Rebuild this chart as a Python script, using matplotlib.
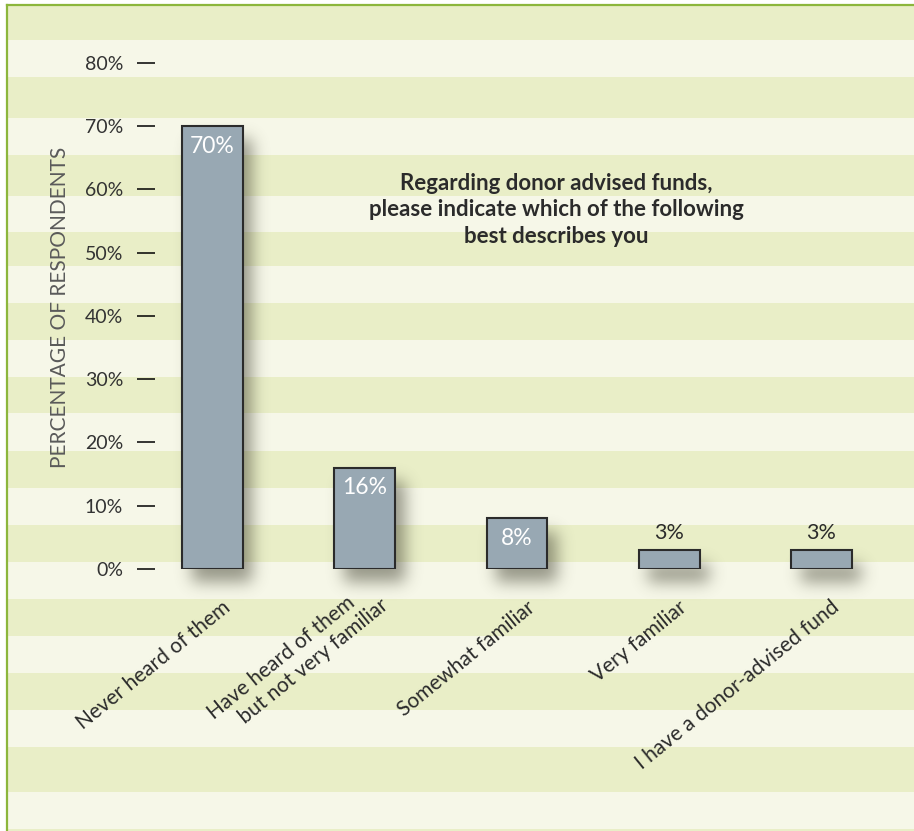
import numpy as np
import matplotlib
matplotlib.use("Agg")
import matplotlib.pyplot as plt
import matplotlib.transforms as mtransforms
from matplotlib.patches import Rectangle

plt.rcParams['font.family'] = ['Lato', 'DejaVu Sans']

categories = ["Never heard of them",
              "Have heard of them\n    but not very familiar",
              "Somewhat familiar",
              "Very familiar",
              "I have a donor-advised fund"]
values = [70, 16, 8, 3, 3]
value_labels = ["70%", "16%", "8%", "3%", "3%"]
yticks = [0, 10, 20, 30, 40, 50, 60, 70, 80]
ytick_labels = ["0%", "10%", "20%", "30%", "40%", "50%", "60%", "70%", "80%"]
title = "Regarding donor advised funds,\nplease indicate which of the following\nbest describes you"
ylabel = "PERCENTAGE OF RESPONDENTS"

W, H = 914, 831
GREEN = "#e9eec7"
LIGHT = "#f6f7e8"
BAR = "#98a8b3"
DARK = "#2b2b2b"

fig = plt.figure(figsize=(W / 100, H / 100), dpi=100)
fig.patch.set_facecolor("white")

# striped background (pixel rows)
edges = [6, 40, 77, 118, 155, 196, 232, 266, 303, 340, 377, 413, 451, 488,
         525, 562, 599, 636, 673, 710, 747, 792, 829, 831]
for k in range(len(edges) - 1):
    y0, y1 = edges[k], edges[k + 1]
    fig.add_artist(Rectangle((8 / W, 1 - y1 / H), 1 - 8 / W, (y1 - y0) / H,
                             transform=fig.transFigure,
                             facecolor=GREEN if k % 2 == 0 else LIGHT,
                             edgecolor="none", zorder=-3))
# green frame on top and left
fig.add_artist(plt.Line2D([7 / W, 7 / W], [0, 1 - 5 / H], transform=fig.transFigure,
                          color="#8cb63c", lw=1.6, zorder=-2))
fig.add_artist(plt.Line2D([7 / W, 1], [1 - 5 / H, 1 - 5 / H], transform=fig.transFigure,
                          color="#8cb63c", lw=1.6, zorder=-2))

# axes geometry in pixels
ax_l, ax_r, ax_t, ax_b = 160, 905, 40, 569
ux = 152.25  # px per category
uy = 6.33    # px per percent
ax = fig.add_axes([ax_l / W, (H - ax_b) / H, (ax_r - ax_l) / W, (ax_b - ax_t) / H])
ax.patch.set_visible(False)
x = np.arange(len(categories))
ax.set_xlim(-(212.5 - ax_l) / ux, (ax_r - 212.5) / ux)
ax.set_ylim(0, (ax_b - ax_t) / uy)

bw = 0.4
ax.bar(x, values, width=bw, color=BAR, edgecolor=DARK, linewidth=1.5, zorder=3)

# soft drop shadow, blurred in pixel space
mask = np.zeros((H, W))
for xi, v in zip(x, values):
    (px0, py0), (px1, py1) = ax.transData.transform([(xi - bw / 2, 0), (xi + bw / 2, v)])
    sx, sy = 10, -13
    mask[int(py0 + sy):int(py1 + sy), int(px0 + sx):int(px1 + sx)] = 1.0
sigma = 8.0
r = np.arange(-int(3 * sigma), int(3 * sigma) + 1)
kern = np.exp(-r ** 2 / (2 * sigma ** 2))
kern /= kern.sum()
mask = np.apply_along_axis(lambda m: np.convolve(m, kern, mode="same"), 1, mask)
mask = np.apply_along_axis(lambda m: np.convolve(m, kern, mode="same"), 0, mask)
shadow = np.zeros((H, W, 4))
shadow[..., 0] = 0.22
shadow[..., 1] = 0.22
shadow[..., 2] = 0.16
shadow[..., 3] = 0.5 * mask
fig.figimage(shadow, xo=0, yo=0, origin="lower", zorder=-1)

for xi, v, lab in zip(x, values, value_labels):
    if v > 5:
        ax.annotate(lab, (xi, v), xytext=(0, -7), textcoords="offset points",
                    ha="center", va="top", color="white", fontsize=16.5, zorder=4)
    else:
        ax.annotate(lab, (xi, v), xytext=(0, 5), textcoords="offset points",
                    ha="center", va="bottom", color=DARK, fontsize=15.5, zorder=4)

for s in ax.spines.values():
    s.set_visible(False)
ax.spines['left'].set_position(('outward', 3.6))
ax.set_yticks(yticks)
ax.set_yticklabels(ytick_labels, fontsize=14, color="#333333")
ax.tick_params(axis="y", length=13, width=1.1, pad=10, direction="out")
tick_colors = ["#555555", "#8b6236", "#8b6236", "#3a2a1a", "#8b6236",
               "#3a2a1a", "#8b6236", "#8b6236", "#8b6236"]
for t, c in zip(ax.yaxis.get_major_ticks(), tick_colors):
    t.tick1line.set_color(c)
ax.set_xticks([])

# rotated category labels
base = mtransforms.blended_transform_factory(ax.transData, ax.transAxes)
for xi, lab in zip(x, categories):
    if "\n" in lab:
        dx, dy = 0, -8
    else:
        dx, dy = 9, -28
    tr = base + mtransforms.ScaledTranslation(dx / 100, dy / 100, fig.dpi_scale_trans)
    ax.text(xi, 0, lab, transform=tr, rotation=39, rotation_mode="anchor",
            ha="right", va="top", multialignment="left", fontsize=15,
            color=DARK, linespacing=1.2)

fig.text(556 / W, 1 - 210 / H, title, ha="center", va="center", fontsize=16,
         fontweight="bold", color=DARK, linespacing=1.3)
fig.text(60 / W, 1 - 307 / H, ylabel, rotation=90, ha="center", va="center",
         fontsize=15, color="#5a5a5a")

fig.savefig("out.png", dpi=100)
